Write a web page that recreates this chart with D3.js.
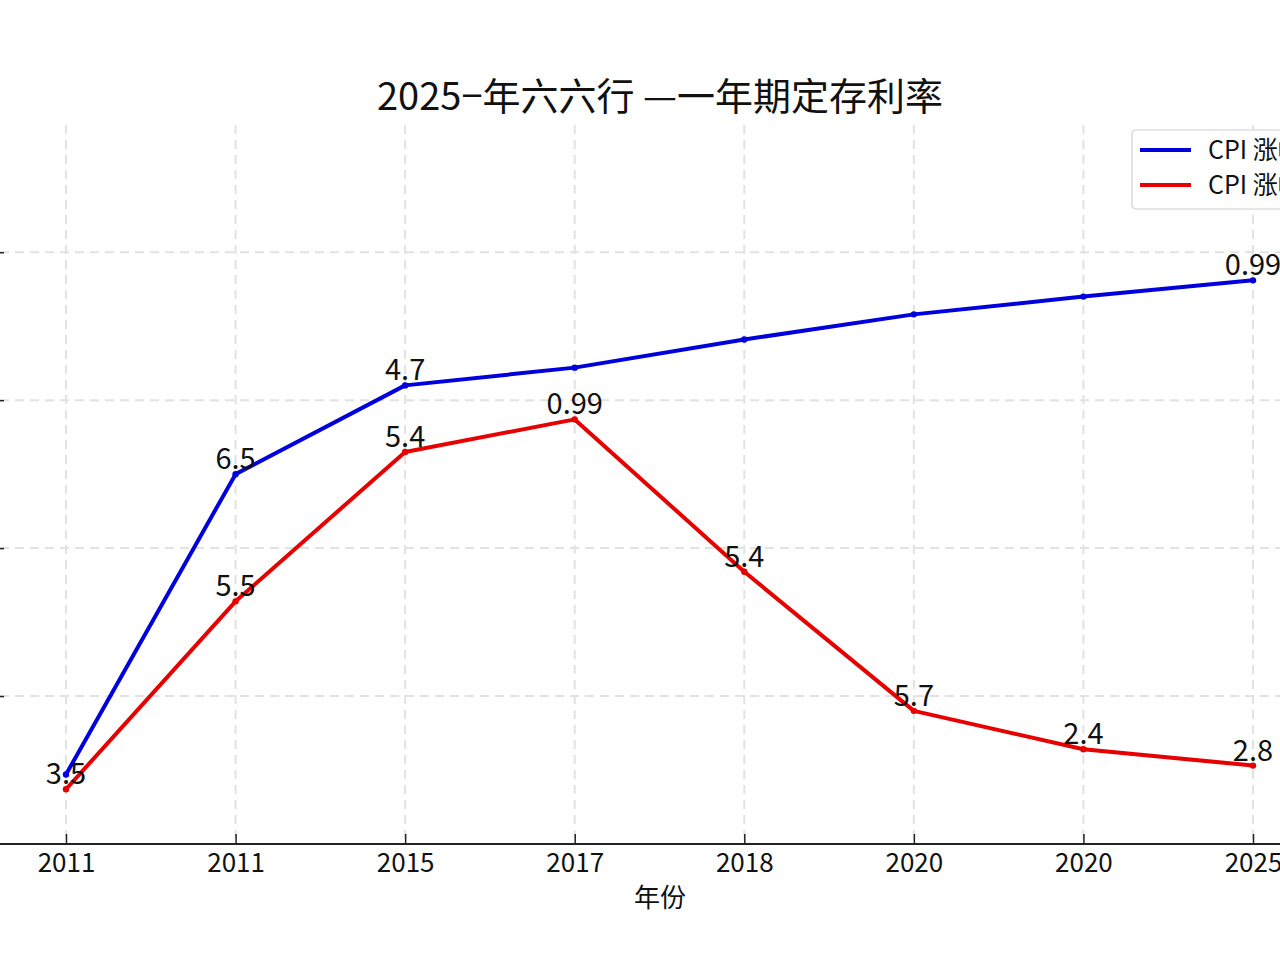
<!DOCTYPE html>
<html><head><meta charset="utf-8">
<script src="https://cdn.jsdelivr.net/npm/d3@7"></script>
<style>
html,body{margin:0;padding:0;background:#fff;overflow:hidden;}
text{font-family:"Noto Sans CJK SC","Noto Sans",sans-serif;fill:#111;}
</style></head>
<body>
<script>
const title = "2025−年六六行 —一年期定存利率";
const xTitle = "年份";
const categories = ["2011","2011","2015","2017","2018","2020","2020","2025"];
const blueValues = [0.47, 2.50, 3.10, 3.22, 3.41, 3.58, 3.70, 3.81];
const redValues  = [0.37, 1.64, 2.65, 2.87, 1.84, 0.90, 0.64, 0.53];
const blueLabels = ["", "6.5", "4.7", "", "", "", "", "0.99"];
const redLabels  = ["3.5", "5.5", "5.4", "0.99", "5.4", "5.7", "2.4", "2.8"];
const yTicks = [1, 2, 3, 4];
const yDomain = [0, 4.86];
const legendNames = ["CPI 涨幅", "CPI 涨幅"];

const W = 1280, H = 960;
const FONT = '"Noto Sans CJK SC","Noto Sans",sans-serif';
const svg = d3.select("body").append("svg").attr("width", W).attr("height", H);
svg.append("rect").attr("width", W).attr("height", H).attr("fill", "#fff");

const plotTop = 125, plotBottom = 844;
const x = d3.scalePoint().domain(d3.range(categories.length)).range([66, 1253]);
const y = d3.scaleLinear().domain(yDomain).range([plotBottom, plotTop]);

// grid
const grid = svg.append("g").attr("stroke", "#e2e2e2").attr("stroke-width", 2).attr("stroke-dasharray", "9,6");
grid.selectAll(".vg").data(d3.range(categories.length)).join("line")
  .attr("x1", d => x(d)).attr("x2", d => x(d)).attr("y1", plotTop).attr("y2", plotBottom);
grid.selectAll(".hg").data(yTicks).join("line")
  .attr("x1", 0).attr("x2", W).attr("y1", d => y(d)).attr("y2", d => y(d));

// y axis (labels fall off the left edge in the reference)
const yAxis = svg.append("g").attr("transform", "translate(4,0)")
  .call(d3.axisLeft(y).tickValues(yTicks).tickSize(6).tickFormat(""));
yAxis.select(".domain").remove();
yAxis.selectAll("line").attr("stroke", "#222").attr("stroke-width", 1.5);

// x axis
const xAxis = svg.append("g").attr("transform", `translate(0,${plotBottom})`)
  .call(d3.axisBottom(x).tickSize(-10).tickPadding(10).tickFormat(i => categories[i]));
xAxis.select(".domain").remove();
svg.append("line").attr("x1", 0).attr("x2", W).attr("y1", plotBottom).attr("y2", plotBottom)
  .attr("stroke", "#222").attr("stroke-width", 2);
xAxis.selectAll("line").attr("stroke", "#222").attr("stroke-width", 1.5);
xAxis.selectAll("text").attr("font-size", 26).attr("fill", "#111").style("font-family", FONT);

svg.append("text").attr("x", 660).attr("y", 907).attr("text-anchor", "middle")
  .attr("font-size", 26).text(xTitle);

svg.append("text").attr("x", 660).attr("y", 110).attr("text-anchor", "middle")
  .attr("font-size", 38).text(title);

// lines
const series = [
  {vals: redValues, labels: redLabels, color: "#e60000"},
  {vals: blueValues, labels: blueLabels, color: "#0000dd"}
];
const line = d3.line().x((d, i) => x(i)).y(d => y(d));
series.forEach(s => {
  svg.append("path").datum(s.vals).attr("d", line).attr("fill", "none")
    .attr("stroke", s.color).attr("stroke-width", 4).attr("stroke-linejoin", "round");
  svg.selectAll(null).data(s.vals).join("circle")
    .attr("cx", (d, i) => x(i)).attr("cy", d => y(d)).attr("r", 3.2).attr("fill", s.color);
});
series.forEach(s => {
  svg.selectAll(null).data(s.vals).join("text")
    .attr("x", (d, i) => x(i)).attr("y", d => y(d) - 5)
    .attr("text-anchor", "middle").attr("font-size", 29)
    .text((d, i) => s.labels[i]);
});

// legend
const lg = svg.append("g").attr("transform", "translate(1132,130)");
lg.append("rect").attr("width", 200).attr("height", 79).attr("rx", 4)
  .attr("fill", "#fff").attr("stroke", "#cfcfcf").attr("stroke-width", 1.2);
[{c: "#0000dd", n: legendNames[0]}, {c: "#e60000", n: legendNames[1]}].forEach((d, i) => {
  lg.append("line").attr("x1", 8).attr("x2", 59).attr("y1", 20 + i * 35).attr("y2", 20 + i * 35)
    .attr("stroke", d.c).attr("stroke-width", 4);
  lg.append("text").attr("x", 76).attr("y", 29 + i * 35).attr("font-size", 25).text(d.n);
});
</script>
</body></html>
